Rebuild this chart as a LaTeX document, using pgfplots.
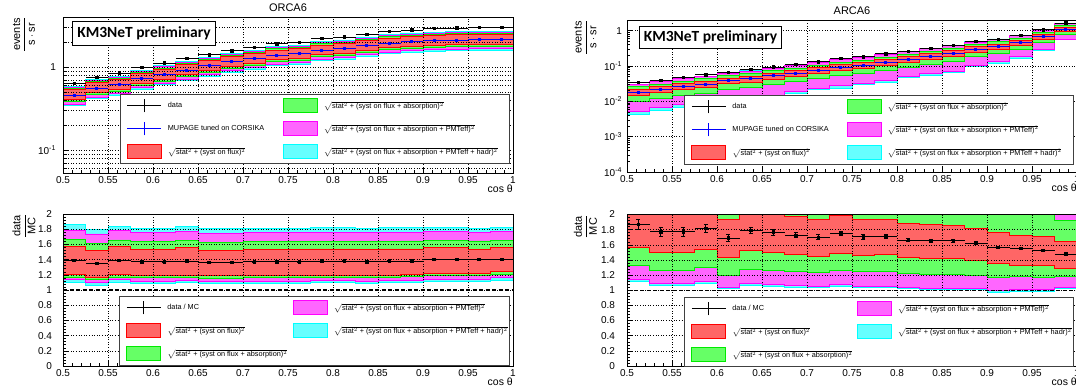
\documentclass[border=0pt]{standalone}
\usepackage{amsmath}
\usepackage{fontspec}
\setmainfont{Liberation Sans}
\newfontfamily\kmfont{Carlito}
\usepackage{pgfplots}
\pgfplotsset{compat=1.18}
\usepackage{pgfplotstable}

\definecolor{rfill}{RGB}{255,102,102}
\definecolor{gfill}{RGB}{102,255,102}
\definecolor{mfill}{RGB}{255,102,255}
\definecolor{cfill}{RGB}{102,255,255}
\definecolor{redge}{RGB}{255,0,0}
\definecolor{gedge}{RGB}{0,235,0}
\definecolor{medge}{RGB}{255,0,255}
\definecolor{cedge}{RGB}{0,255,255}
\definecolor{mcblue}{RGB}{0,0,255}

% ORCA6 top: x xc data err mc | lower edges cyan magenta green red | upper edges red green magenta cyan
\pgfplotstableread{
x xc d de mc clo mlo glo rlo rhi ghi mhi chi
0.500 0.5125 0.638 0.006 0.459 0.344 0.358 0.381 0.404 0.530 0.546 0.565 0.583
0.525 0.5375 0.753 0.007 0.558 0.419 0.435 0.463 0.491 0.644 0.664 0.686 0.709
0.550 0.5625 0.848 0.008 0.610 0.458 0.476 0.506 0.537 0.705 0.726 0.750 0.775
0.575 0.5875 0.992 0.009 0.724 0.543 0.565 0.601 0.637 0.836 0.862 0.891 0.919
0.600 0.6125 1.116 0.010 0.815 0.611 0.636 0.676 0.717 0.941 0.970 1.002 1.035
0.625 0.6375 1.270 0.011 0.920 0.690 0.718 0.764 0.810 1.063 1.095 1.132 1.168
0.650 0.6625 1.403 0.012 1.032 0.774 0.805 0.857 0.908 1.192 1.228 1.269 1.311
0.675 0.6875 1.566 0.013 1.151 0.863 0.898 0.955 1.013 1.329 1.370 1.416 1.462
0.700 0.7125 1.720 0.014 1.255 0.941 0.979 1.042 1.104 1.450 1.493 1.544 1.594
0.725 0.7375 1.900 0.015 1.387 1.040 1.082 1.151 1.221 1.602 1.651 1.706 1.761
0.750 0.7625 1.970 0.016 1.438 1.079 1.122 1.194 1.265 1.661 1.711 1.769 1.826
0.775 0.7875 2.200 0.017 1.594 1.196 1.243 1.323 1.403 1.841 1.897 1.961 2.024
0.800 0.8125 2.300 0.018 1.667 1.250 1.300 1.384 1.467 1.925 1.984 2.050 2.117
0.825 0.8375 2.480 0.019 1.810 1.358 1.412 1.502 1.593 2.091 2.154 2.226 2.299
0.850 0.8625 2.670 0.020 1.935 1.451 1.509 1.606 1.703 2.235 2.303 2.380 2.457
0.875 0.8875 2.790 0.021 2.022 1.517 1.577 1.678 1.779 2.335 2.406 2.487 2.568
0.900 0.9125 2.900 0.022 2.071 1.553 1.615 1.719 1.822 2.392 2.464 2.547 2.630
0.925 0.9375 2.950 0.022 2.107 1.580 1.643 1.749 1.854 2.434 2.507 2.592 2.676
0.950 0.9625 2.980 0.023 2.129 1.597 1.661 1.767 1.874 2.459 2.534 2.619 2.704
0.975 0.9875 2.980 0.023 2.129 1.597 1.661 1.767 1.874 2.459 2.534 2.619 2.704
1.000 1.0125 2.980 0.023 2.129 1.597 1.661 1.767 1.874 2.459 2.534 2.619 2.704
}\orcatop

% ARCA6 top
\pgfplotstableread{
x xc d de mc clo mlo glo rlo rhi ghi mhi chi
0.500 0.5125 0.0339 0.0012 0.0181 0.00422 0.00514 0.00976 0.0142 0.0216 0.0256 0.0297 0.0305
0.525 0.5375 0.0387 0.0013 0.0219 0.00567 0.00650 0.01213 0.01745 0.0259 0.0306 0.0357 0.0364
0.550 0.5625 0.0471 0.0015 0.0266 0.00689 0.00790 0.01474 0.0212 0.0314 0.0372 0.0433 0.0442
0.575 0.5875 0.0563 0.0017 0.0310 0.00818 0.00933 0.01715 0.0246 0.0367 0.0434 0.0503 0.0514
0.600 0.6125 0.0656 0.0019 0.0388 0.01024 0.01187 0.0210 0.0311 0.0457 0.0547 0.0629 0.0643
0.625 0.6375 0.0783 0.0020 0.0437 0.01036 0.0120 0.0241 0.0350 0.0514 0.0612 0.0720 0.0735
0.650 0.6625 0.0935 0.0021 0.0529 0.0130 0.0146 0.0294 0.0423 0.0624 0.0739 0.0871 0.0886
0.675 0.6875 0.109 0.0022 0.0631 0.0167 0.0191 0.0357 0.0506 0.0743 0.0876 0.1023 0.1045
0.700 0.7125 0.130 0.0027 0.0765 0.0213 0.0236 0.0442 0.0614 0.0900 0.1053 0.1238 0.1258
0.725 0.7375 0.162 0.0028 0.0926 0.0237 0.0275 0.0530 0.0738 0.1094 0.1280 0.1508 0.1541
0.750 0.7625 0.181 0.0032 0.106 0.0297 0.0330 0.0632 0.0860 0.1239 0.1443 0.1712 0.1742
0.775 0.7875 0.221 0.0032 0.129 0.0347 0.0386 0.0764 0.1051 0.1503 0.1760 0.2098 0.2132
0.800 0.8125 0.262 0.0032 0.157 0.0460 0.0499 0.0931 0.1286 0.1824 0.2140 0.2526 0.2561
0.825 0.8375 0.313 0.0038 0.189 0.0542 0.0603 0.1119 0.1544 0.2198 0.2578 0.3039 0.3094
0.850 0.8625 0.382 0.0046 0.231 0.0672 0.0709 0.1377 0.1876 0.2698 0.3144 0.3740 0.3772
0.875 0.8875 0.487 0.0045 0.300 0.0939 0.1011 0.1812 0.2463 0.348 0.406 0.478 0.484
0.900 0.9125 0.567 0.0054 0.362 0.1166 0.1303 0.2237 0.299 0.418 0.485 0.569 0.581
0.925 0.9375 0.723 0.0056 0.467 0.1677 0.1863 0.302 0.383 0.542 0.614 0.718 0.734
0.950 0.9625 1.047 0.0070 0.686 0.269 0.290 0.450 0.569 0.791 0.897 1.039 1.058
0.975 0.9875 1.630 0.0110 1.100 0.548 0.573 0.785 0.920 1.261 1.381 1.571 1.593
1.000 1.0125 1.630 0.0110 1.100 0.548 0.573 0.785 0.920 1.261 1.381 1.571 1.593
}\arcatop

% ORCA6 ratio
\pgfplotstableread{
x xc r re clo mlo glo rlo rhi ghi mhi chi
0.500 0.5125 1.39 0.012 1.093 1.133 1.169 1.204 1.577 1.671 1.790 1.857
0.525 0.5375 1.35 0.012 1.058 1.093 1.138 1.169 1.524 1.618 1.737 1.800
0.550 0.5625 1.39 0.012 1.093 1.133 1.169 1.204 1.570 1.658 1.777 1.840
0.575 0.5875 1.37 0.011 1.090 1.116 1.160 1.190 1.537 1.636 1.756 1.813
0.600 0.6125 1.37 0.011 1.090 1.116 1.160 1.190 1.537 1.636 1.756 1.813
0.625 0.6375 1.38 0.011 1.095 1.120 1.165 1.195 1.555 1.650 1.765 1.830
0.650 0.6625 1.36 0.010 1.085 1.110 1.155 1.185 1.524 1.625 1.745 1.810
0.675 0.6875 1.36 0.010 1.085 1.110 1.155 1.185 1.524 1.625 1.745 1.810
0.700 0.7125 1.37 0.010 1.090 1.116 1.160 1.190 1.530 1.636 1.756 1.813
0.725 0.7375 1.37 0.010 1.090 1.116 1.160 1.190 1.530 1.636 1.756 1.813
0.750 0.7625 1.37 0.010 1.090 1.116 1.160 1.190 1.530 1.636 1.756 1.813
0.775 0.7875 1.38 0.010 1.095 1.120 1.165 1.195 1.540 1.640 1.760 1.820
0.800 0.8125 1.38 0.010 1.095 1.120 1.165 1.195 1.540 1.640 1.760 1.820
0.825 0.8375 1.37 0.010 1.090 1.116 1.160 1.190 1.530 1.636 1.756 1.813
0.850 0.8625 1.38 0.010 1.095 1.120 1.165 1.195 1.540 1.640 1.760 1.820
0.875 0.8875 1.38 0.010 1.100 1.130 1.175 1.200 1.540 1.645 1.760 1.820
0.900 0.9125 1.40 0.010 1.110 1.140 1.185 1.213 1.555 1.650 1.770 1.825
0.925 0.9375 1.40 0.010 1.115 1.145 1.190 1.220 1.555 1.650 1.770 1.825
0.950 0.9625 1.40 0.010 1.115 1.145 1.190 1.220 1.530 1.645 1.760 1.815
0.975 0.9875 1.40 0.010 1.124 1.160 1.200 1.244 1.555 1.650 1.770 1.825
1.000 1.0125 1.40 0.010 1.124 1.160 1.200 1.244 1.555 1.650 1.770 1.825
}\orcarat

% ARCA6 ratio
\pgfplotstableread{
x xc r re clo mlo glo rlo rhi ghi mhi chi
0.500 0.5125 1.870 0.070 1.110 1.141 1.324 1.566 2.40 2.80 3.2 3.5
0.525 0.5375 1.770 0.065 1.065 1.087 1.266 1.499 2.30 2.70 3.2 3.5
0.550 0.5625 1.770 0.060 1.065 1.087 1.266 1.499 2.30 2.70 3.2 3.5
0.575 0.5875 1.816 0.055 1.096 1.118 1.298 1.534 2.30 2.70 3.2 3.5
0.600 0.6125 1.690 0.050 1.020 1.043 1.199 1.436 1.937 2.50 3.2 3.5
0.625 0.6375 1.790 0.045 1.065 1.087 1.279 1.521 2.30 2.70 3.2 3.5
0.650 0.6625 1.768 0.040 1.056 1.074 1.266 1.499 2.20 2.60 3.2 3.5
0.675 0.6875 1.727 0.035 1.043 1.065 1.244 1.467 1.970 2.50 3.2 3.5
0.700 0.7125 1.700 0.035 1.034 1.051 1.235 1.445 1.937 2.50 3.2 3.5
0.725 0.7375 1.749 0.030 1.051 1.074 1.266 1.481 1.990 2.50 3.2 3.5
0.750 0.7625 1.705 0.030 1.038 1.056 1.253 1.459 1.930 2.50 3.2 3.5
0.775 0.7875 1.709 0.025 1.034 1.051 1.253 1.467 1.937 2.50 3.2 3.5
0.800 0.8125 1.664 0.020 1.020 1.034 1.221 1.432 1.883 2.40 3.2 3.5
0.825 0.8375 1.655 0.020 1.011 1.029 1.213 1.423 1.870 2.40 3.2 3.5
0.850 0.8625 1.651 0.020 1.011 1.020 1.213 1.414 1.856 2.40 3.2 3.5
0.875 0.8875 1.624 0.015 1.007 1.020 1.199 1.400 1.816 2.30 3.2 3.5
0.900 0.9125 1.566 0.015 0.976 0.997 1.168 1.356 1.758 2.20 3.2 3.5
0.925 0.9375 1.548 0.012 0.985 1.007 1.177 1.333 1.727 2.20 3.2 3.5
0.950 0.9625 1.526 0.010 0.989 1.007 1.168 1.324 1.705 2.10 3.2 3.5
0.975 0.9875 1.477 0.010 1.020 1.034 1.177 1.289 1.647 1.915 3.2 3.5
1.000 1.0125 1.477 0.010 1.020 1.034 1.177 1.289 1.647 1.915 3.2 3.5
}\arcarat

% nested bands: fill each upper edge down to the axis floor, then repaint below each lower edge
\newcommand{\fillto}[3]{\addplot[fill=#3, draw=none, const plot, forget plot] table[x=x,y=#2]{#1} -- (rel axis cs:1,0) -- (rel axis cs:0,0) -- cycle;}
\newcommand{\edge}[3]{\addplot[draw=#3, line width=0.9pt, const plot, forget plot] table[x=x,y=#2]{#1};}
\newcommand{\bands}[1]{%
  \fillto{#1}{chi}{cfill}\fillto{#1}{mhi}{mfill}\fillto{#1}{ghi}{gfill}\fillto{#1}{rhi}{rfill}%
  \fillto{#1}{rlo}{gfill}\fillto{#1}{glo}{mfill}\fillto{#1}{mlo}{cfill}\fillto{#1}{clo}{white}%
  \edge{#1}{chi}{cedge}\edge{#1}{clo}{cedge}\edge{#1}{mhi}{medge}\edge{#1}{mlo}{medge}%
  \edge{#1}{ghi}{gedge}\edge{#1}{glo}{gedge}\edge{#1}{rhi}{redge}\edge{#1}{rlo}{redge}%
}
\newcommand{\legcross}[1]{\addlegendimage{legend image code/.code={\draw[#1,line width=1pt] (0pt,0pt)--(34pt,0pt) (17pt,-6.5pt)--(17pt,6.5pt);}}}
\newcommand{\legbox}[2]{\addlegendimage{legend image code/.code={\draw[fill=#1,draw=#2,line width=1pt] (0pt,-7pt) rectangle (34pt,7pt);}}}
\newcommand{\tRed}{$\sqrt{\text{stat}^{2}\text{ + (syst on flux)}^{2}}$}
\newcommand{\tGreen}{$\sqrt{\text{stat}^{2}\text{ + (syst on flux + absorption)}^{2}}$}
\newcommand{\tMag}{$\sqrt{\text{stat}^{2}\text{ + (syst on flux + absorption + PMTeff)}^{2}}$}
\newcommand{\tCyan}{$\sqrt{\text{stat}^{2}\text{ + (syst on flux + absorption + PMTeff + hadr)}^{2}}$}

\pgfplotsset{
  rootbase/.style={
    scale only axis, width=450pt,
    xmin=0.5, xmax=1,
    xtick={0.5,0.55,0.6,0.65,0.7,0.75,0.8,0.85,0.9,0.95,1},
    xticklabels={0.5,0.55,0.6,0.65,0.7,0.75,0.8,0.85,0.9,0.95,1},
    minor x tick num=4,
    tick align=inside, tick pos=left,
    major tick length=6pt, minor tick length=3pt,
    every tick/.style={black, line width=0.5pt},
    axis line style={line width=0.8pt},
    axis on top,
    xmajorgrids, ymajorgrids,
    major grid style={black, line width=0.5pt, dash pattern=on 0.8pt off 1.8pt},
    minor grid style={black, line width=0.5pt, dash pattern=on 0.8pt off 1.8pt},
    tick label style={font=\fontsize{10}{12}\selectfont},
    xlabel={cos θ},
    xlabel style={font=\fontsize{10.5}{12}\selectfont, at={(rel axis cs:1,0)}, anchor=north east, inner sep=0pt, yshift=-12pt},
    ylabel style={font=\fontsize{11}{13}\selectfont, anchor=east, inner sep=0pt},
    every axis title shift=0pt,
    title style={font=\fontsize{11}{13}\selectfont, at={(0.5,1)}, anchor=base, inner sep=0pt, yshift=5pt},
    legend columns=2,
    legend cell align=left,
    legend style={draw=black!75, line width=0.8pt, fill=white, anchor=north west,
      font=\fontsize{7.3}{8.5}\selectfont, inner xsep=7pt, inner ysep=4pt, row sep=8pt,
      nodes={inner sep=0pt}, /tikz/every odd column/.append style={column sep=6pt}},
  },
}

\begin{document}
\begin{tikzpicture}
\useasboundingbox (0pt,0pt) rectangle (1076pt,389pt);
\clip (0pt,0pt) rectangle (1076pt,389pt);

%================ ORCA6 top
\begin{axis}[rootbase, ymode=log, name=otop, at={(63pt,216pt)}, anchor=south west, height=156pt,
  ymin=0.053, ymax=4, title={ORCA6},
  ylabel={$\dfrac{\text{events}}{\text{s}\cdot\text{sr}}$},
  ytick={0.1,1}, yticklabels={10\textsuperscript{-1},1},
  minor ytick={0.06,0.07,0.08,0.09,0.2,0.3,0.4,0.5,0.6,0.7,0.8,0.9,2,3,4},
  yminorgrids,
  yticklabel style={xshift=-3.5pt},
  ylabel style={at={(rel axis cs:-0.0867,1)}},
  legend style={at={(0.1256,0.506)}}]
\bands{\orcatop}
\addplot[mcblue, line width=0.9pt, only marks, mark=square*, mark size=1pt, forget plot,
  skip coords between index={20}{21},
  error bars/.cd, x dir=both, x fixed=0.0125, error mark=none, error bar style={line width=0.9pt}]
  table[x=xc, y=mc]{\orcatop};
\addplot[black, line width=0.9pt, only marks, mark=square*, mark size=1.2pt, forget plot,
  skip coords between index={20}{21},
  error bars/.cd, x dir=both, x fixed=0.0125, y dir=both, y explicit, error mark=none, error bar style={line width=0.9pt}]
  table[x=xc, y=d, y error=de]{\orcatop};
\legcross{black}\addlegendentry{\makebox[115pt][l]{data}}
\legbox{gfill}{gedge}\addlegendentry{\makebox[178.6pt][l]{\tGreen}}
\legcross{mcblue}\addlegendentry{\makebox[115pt][l]{MUPAGE tuned on CORSIKA}}
\legbox{mfill}{medge}\addlegendentry{\makebox[178.6pt][l]{\tMag}}
\legbox{rfill}{redge}\addlegendentry{\makebox[115pt][l]{\tRed}}
\legbox{cfill}{cedge}\addlegendentry{\makebox[178.6pt][l]{\tCyan}}
\end{axis}
\node[draw=black, line width=1pt, fill=white, anchor=north west, minimum width=143pt, minimum height=24.5pt, inner sep=0pt, font=\kmfont\bfseries\fontsize{15.5}{18}\selectfont] at ([xshift=9pt,yshift=-4pt]otop.north west) {KM3NeT preliminary};

%================ ARCA6 top
\begin{axis}[rootbase, ymode=log, name=atop, at={(627pt,217pt)}, anchor=south west, height=152pt,
  ymin=1e-4, ymax=2, title={ARCA6},
  ylabel={$\dfrac{\text{events}}{\text{s}\cdot\text{sr}}$},
  ytick={1e-4,1e-3,1e-2,1e-1,1},
  yticklabels={10\textsuperscript{-4},10\textsuperscript{-3},10\textsuperscript{-2},10\textsuperscript{-1},1},
  minor ytick={2e-4,3e-4,4e-4,5e-4,6e-4,7e-4,8e-4,9e-4,2e-3,3e-3,4e-3,5e-3,6e-3,7e-3,8e-3,9e-3,0.02,0.03,0.04,0.05,0.06,0.07,0.08,0.09,0.2,0.3,0.4,0.5,0.6,0.7,0.8,0.9,2},
  yticklabel style={xshift=-1.5pt},
  ylabel style={at={(rel axis cs:-0.0922,1)}},
  legend style={at={(0.1267,0.507)}}]
\bands{\arcatop}
\addplot[mcblue, line width=0.9pt, only marks, mark=square*, mark size=1pt, forget plot,
  skip coords between index={20}{21},
  error bars/.cd, x dir=both, x fixed=0.0125, error mark=none, error bar style={line width=0.9pt}]
  table[x=xc, y=mc]{\arcatop};
\addplot[black, line width=0.9pt, only marks, mark=square*, mark size=1.2pt, forget plot,
  skip coords between index={20}{21},
  error bars/.cd, x dir=both, x fixed=0.0125, y dir=both, y explicit, error mark=none, error bar style={line width=0.9pt}]
  table[x=xc, y=d, y error=de]{\arcatop};
\legcross{black}\addlegendentry{\makebox[114.3pt][l]{data}}
\legbox{gfill}{gedge}\addlegendentry{\makebox[178.7pt][l]{\tGreen}}
\legcross{mcblue}\addlegendentry{\makebox[114.3pt][l]{MUPAGE tuned on CORSIKA}}
\legbox{mfill}{medge}\addlegendentry{\makebox[178.7pt][l]{\tMag}}
\legbox{rfill}{redge}\addlegendentry{\makebox[114.3pt][l]{\tRed}}
\legbox{cfill}{cedge}\addlegendentry{\makebox[178.7pt][l]{\tCyan}}
\end{axis}
\node[draw=black, line width=1pt, fill=white, anchor=north west, minimum width=142pt, minimum height=22pt, inner sep=0pt, font=\kmfont\bfseries\fontsize{15.5}{18}\selectfont] at ([xshift=12pt,yshift=-6pt]atop.north west) {KM3NeT preliminary};

%================ ORCA6 ratio
\begin{axis}[rootbase, name=orat, at={(63pt,23pt)}, anchor=south west, height=152pt,
  ymin=0, ymax=2,
  ytick={0,0.2,0.4,0.6,0.8,1,1.2,1.4,1.6,1.8,2},
  yticklabels={0,0.2,0.4,0.6,0.8,1,1.2,1.4,1.6,1.8,2},
  minor y tick num=4,
  ylabel={$\dfrac{\text{data}}{\text{MC}}$},
  yticklabel style={xshift=-7.5pt},
  ylabel style={at={(rel axis cs:-0.0867,1)}},
  legend style={at={(0.1244,0.4605)}}]
\bands{\orcarat}
\addplot[black, line width=1.1pt, dash pattern=on 4pt off 2.5pt, forget plot] coordinates {(0.5,1) (1,1)};
\addplot[black, line width=0.9pt, only marks, mark=square*, mark size=1.2pt, forget plot,
  skip coords between index={20}{21},
  error bars/.cd, x dir=both, x fixed=0.0125, error mark=none, error bar style={line width=0.9pt}]
  table[x=xc, y=r]{\orcarat};
\addplot[black, line width=0.9pt, only marks, mark=square*, mark size=1.2pt, forget plot,
  skip coords between index={20}{21},
  error bars/.cd, y dir=both, y explicit, error bar style={line width=0.9pt},
  error mark options={rotate=90, mark size=2pt, line width=0.9pt}]
  table[x=xc, y=r, y error=re]{\orcarat};
\legcross{black}\addlegendentry{\makebox[125.5pt][l]{data / MC}}
\legbox{mfill}{medge}\addlegendentry{\makebox[169pt][l]{\tMag}}
\legbox{rfill}{redge}\addlegendentry{\makebox[125.5pt][l]{\tRed}}
\legbox{cfill}{cedge}\addlegendentry{\makebox[169pt][l]{\tCyan}}
\legbox{gfill}{gedge}\addlegendentry{\makebox[125.5pt][l]{\tGreen}}
\end{axis}

%================ ARCA6 ratio
\begin{axis}[rootbase, name=arat, at={(627pt,23pt)}, anchor=south west, height=151.5pt,
  ymin=0, ymax=2,
  ytick={0,0.2,0.4,0.6,0.8,1,1.2,1.4,1.6,1.8,2},
  yticklabels={0,0.2,0.4,0.6,0.8,1,1.2,1.4,1.6,1.8,2},
  minor y tick num=4,
  ylabel={$\dfrac{\text{data}}{\text{MC}}$},
  yticklabel style={xshift=-8.5pt},
  ylabel style={at={(rel axis cs:-0.0922,1)}},
  legend style={at={(0.1267,0.455)}}]
\bands{\arcarat}
\addplot[black, line width=1.1pt, dash pattern=on 4pt off 2.5pt, forget plot] coordinates {(0.5,1) (1,1)};
\addplot[black, line width=0.9pt, only marks, mark=square*, mark size=1.2pt, forget plot,
  skip coords between index={20}{21},
  error bars/.cd, x dir=both, x fixed=0.0125, error mark=none, error bar style={line width=0.9pt}]
  table[x=xc, y=r]{\arcarat};
\addplot[black, line width=0.9pt, only marks, mark=square*, mark size=1.2pt, forget plot,
  skip coords between index={20}{21},
  error bars/.cd, y dir=both, y explicit, error bar style={line width=0.9pt},
  error mark options={rotate=90, mark size=2pt, line width=0.9pt}]
  table[x=xc, y=r, y error=re]{\arcarat};
\legcross{black}\addlegendentry{\makebox[124.5pt][l]{data / MC}}
\legbox{mfill}{medge}\addlegendentry{\makebox[168.4pt][l]{\tMag}}
\legbox{rfill}{redge}\addlegendentry{\makebox[124.5pt][l]{\tRed}}
\legbox{cfill}{cedge}\addlegendentry{\makebox[168.4pt][l]{\tCyan}}
\legbox{gfill}{gedge}\addlegendentry{\makebox[124.5pt][l]{\tGreen}}
\end{axis}
\end{tikzpicture}
\end{document}
